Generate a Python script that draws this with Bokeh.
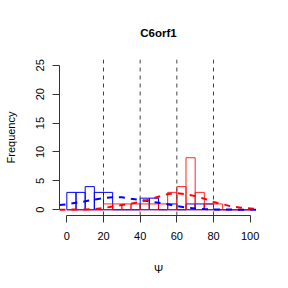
from bokeh.plotting import figure
from bokeh.models import FixedTicker, Span, Title
from bokeh.embed import file_html
from bokeh.resources import INLINE

# ---- data ----
bin_left = [0, 5, 10, 15, 20, 25, 30, 35, 40, 45, 50, 55, 60, 65, 70, 75, 80, 85, 90, 95]
bin_right = [5, 10, 15, 20, 25, 30, 35, 40, 45, 50, 55, 60, 65, 70, 75, 80, 85, 90, 95, 100]
blue_counts = [3, 3, 4, 3, 3, 0, 0, 0, 2, 2, 0, 1, 0, 1, 1, 1, 0, 0, 0, 0]
red_counts = [0, 0, 0, 0, 1, 1, 1, 1, 1, 1, 1, 3, 4, 9, 3, 1, 1, 0, 0, 0]

blue_dens_x = [-4, 0, 5, 10, 15, 20, 25, 30, 35, 40, 45, 50, 55, 60, 65, 70, 75, 80, 90, 100, 104]
blue_dens_y = [0.8, 0.95, 1.2, 1.45, 1.75, 2.0, 2.15, 2.15, 1.9, 1.7, 1.45, 1.2, 0.95, 0.62, 0.4, 0.22, 0.12, 0.06, 0.02, 0.0, 0.0]
red_dens_x = [-4, 0, 5, 10, 15, 20, 25, 30, 35, 40, 45, 50, 55, 60, 65, 70, 75, 80, 85, 90, 95, 100, 104]
red_dens_y = [0.0, 0.02, 0.03, 0.05, 0.12, 0.3, 0.55, 0.8, 1.05, 1.35, 1.75, 2.25, 2.7, 2.85, 2.7, 2.35, 1.9, 1.35, 0.95, 0.55, 0.35, 0.22, 0.1]

vlines = [20, 40, 60, 80]
x_ticks = [0, 20, 40, 60, 80, 100]
y_ticks = [0, 5, 10, 15, 20, 25]
title_text = "C6orf1"
x_label = "Ψ"
y_label = "Frequency"

FONT = "Liberation Sans"

p = figure(width=288, height=288, x_range=(-4, 104), y_range=(-1, 26),
           output_backend="svg", toolbar_location=None,
           min_border_left=59, min_border_right=31, min_border_top=59, min_border_bottom=73)
p.background_fill_color = "white"
p.border_fill_color = "white"
p.outline_line_color = None
p.grid.visible = False

p.title = Title(text=title_text, align="center", text_font=FONT, text_font_size="11.5px",
                text_font_style="bold", text_color="black", standoff=42)

# histograms
p.quad(left=bin_left, right=bin_right, bottom=0, top=blue_counts,
       fill_color=None, line_color="blue", line_width=1)
p.quad(left=bin_left, right=bin_right, bottom=0, top=red_counts,
       fill_color=None, line_color="red", line_width=1, line_alpha=0.85)

# vertical reference lines
for v in vlines:
    p.add_layout(Span(location=v, dimension="height", line_color="#444444",
                      line_width=1, line_dash="4 4"))

# density curves
p.line(blue_dens_x, blue_dens_y, line_color="blue", line_width=2, line_dash="6 6")
p.line(red_dens_x, red_dens_y, line_color="red", line_width=2, line_dash="6 6")

# axes
xa = p.xaxis[0]
xa.ticker = FixedTicker(ticks=x_ticks)
xa.bounds = (0, 100)
ya = p.yaxis[0]
ya.ticker = FixedTicker(ticks=y_ticks)
ya.bounds = (0, 25)
for ax in (xa, ya):
    ax.axis_line_color = "#333333"
    ax.major_tick_line_color = "#333333"
    ax.major_tick_out = 7
    ax.major_tick_in = 0
    ax.minor_tick_line_color = None
    ax.major_label_text_font = FONT
    ax.major_label_text_font_size = "11px"
    ax.major_label_text_color = "black"
    ax.axis_label_text_font = FONT
    ax.axis_label_text_font_size = "11px"
    ax.axis_label_text_font_style = "normal"
    ax.axis_label_text_color = "black"

xa.axis_label = x_label
xa.major_label_standoff = 9
xa.axis_label_standoff = 20
ya.axis_label = y_label
ya.major_label_orientation = "vertical"
ya.major_label_standoff = 8
ya.axis_label_standoff = 17

open("out.html", "w").write(file_html(p, INLINE))
